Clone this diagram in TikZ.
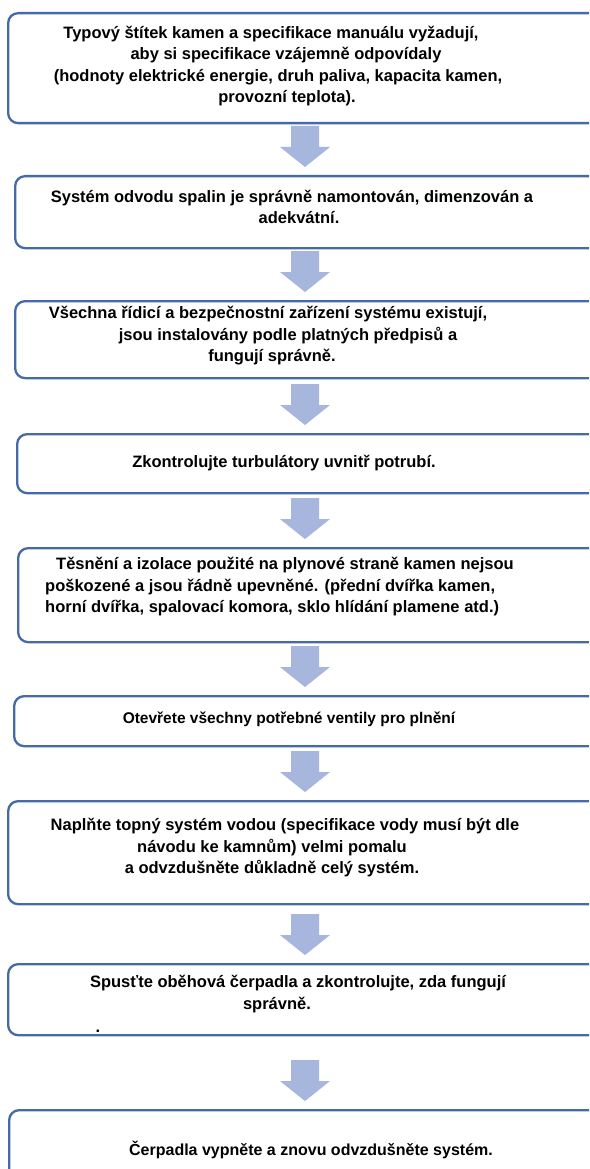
\documentclass[tikz,border=0pt]{standalone}
\usepackage{fontspec}
\setmainfont{Liberation Sans}
\usetikzlibrary{calc}
\definecolor{boxline}{RGB}{68,106,168}
\definecolor{arrowfill}{RGB}{167,182,220}
\tikzset{
  stepbox/.style={draw=boxline, line width=2.3pt, fill=white, rounded corners=10pt, rectangle, anchor=north west, inner sep=0pt},
  steptext/.style={align=center, inner sep=0pt, font=\fontsize{16.5}{21.5}\selectfont\bfseries},
  flowarrow/.style={fill=arrowfill, draw=none},
}
\newcommand{\flowarrow}[2]{%
  \path let \p2=($(ax |- #2.north)+(0,-8)$) in
    [flowarrow] (\x2-14pt,\y2+41pt) -- (\x2+14pt,\y2+41pt) -- (\x2+14pt,\y2+20pt)
    -- (\x2+25pt,\y2+20pt) -- (\x2,\y2) -- (\x2-25pt,\y2+20pt) -- (\x2-14pt,\y2+20pt) -- cycle;
}
\begin{document}
\begin{tikzpicture}[x=1pt,y=-1pt]
\useasboundingbox (0,0) rectangle (589,1169);
\clip (0,0) rectangle (589,1169);
\fill[white] (0,0) rectangle (589,1169);
\coordinate (ax) at (305,0);

\node[stepbox, minimum width=620pt, minimum height=110pt] (b1) at (7,12) {};
\node[stepbox, minimum width=620pt, minimum height=72pt] (b2) at (14,175) {};
\node[stepbox, minimum width=620pt, minimum height=77pt] (b3) at (14,300) {};
\node[stepbox, minimum width=620pt, minimum height=59pt] (b4) at (16,433) {};
\node[stepbox, minimum width=620pt, minimum height=94pt] (b5) at (17,547) {};
\node[stepbox, minimum width=620pt, minimum height=50pt] (b6) at (13,695) {};
\node[stepbox, minimum width=620pt, minimum height=103pt] (b7) at (7,800) {};
\node[stepbox, minimum width=620pt, minimum height=71pt] (b8) at (7,963) {};
\node[stepbox, minimum width=620pt, minimum height=110pt] (b9) at (8,1109) {};

\flowarrow{b1}{b2}
\flowarrow{b2}{b3}
\flowarrow{b3}{b4}
\flowarrow{b4}{b5}
\flowarrow{b5}{b6}
\flowarrow{b6}{b7}
\flowarrow{b7}{b8}
\flowarrow{b8}{b9}

\node[steptext] (t1) at (278,66) {Typový štítek kamen a specifikace manuálu vyžadují,\hspace*{14pt}\\\hspace*{16pt}aby si specifikace vzájemně odpovídaly\\(hodnoty elektrické energie, druh paliva, kapacita kamen,\hspace*{12pt}\\\hspace*{18pt}provozní teplota).};
\node[steptext] (t2) at (292,207) {Systém odvodu spalin je správně namontován, dimenzován a\\\hspace*{14pt}adekvátní.};
\node[steptext] (t3) at (272,336) {Všechna řídicí a bezpečnostní zařízení systému existují,\hspace*{8pt}\\\hspace*{32pt}jsou instalovány podle platných předpisů a\\fungují správně.};
\node[steptext] (t4) at (284,463) {Zkontrolujte turbulátory uvnitř potrubí.};
\node[steptext, align=left, anchor=west] (t5) at (45,587) {\hspace*{11pt}Těsnění a izolace použité na plynové straně kamen nejsou\\poškozené a jsou řádně upevněné. (přední dvířka kamen,\\horní dvířka, spalovací komora, sklo hlídání plamene atd.)};
\node[steptext, font=\fontsize{15.5}{20}\selectfont\bfseries] (t6) at (289,719) {Otevřete všechny potřebné ventily pro plnění};
\node[steptext] (t7) at (272,848) {\hspace*{26pt}Naplňte topný systém vodou (specifikace vody musí být dle\\návodu ke kamnům) velmi pomalu\\a odvzdušněte důkladně celý systém.};
\node[steptext] (t8) at (287,994) {\hspace*{22pt}Spusťte oběhová čerpadla a zkontrolujte, zda fungují\\správně.\hspace*{20pt}};
\node[steptext] (dot) at (98,1031) {.};
\node[steptext, font=\fontsize{16}{21.5}\selectfont\bfseries] (t9) at (311,1150) {Čerpadla vypněte a znovu odvzdušněte systém.};
\end{tikzpicture}
\end{document}
